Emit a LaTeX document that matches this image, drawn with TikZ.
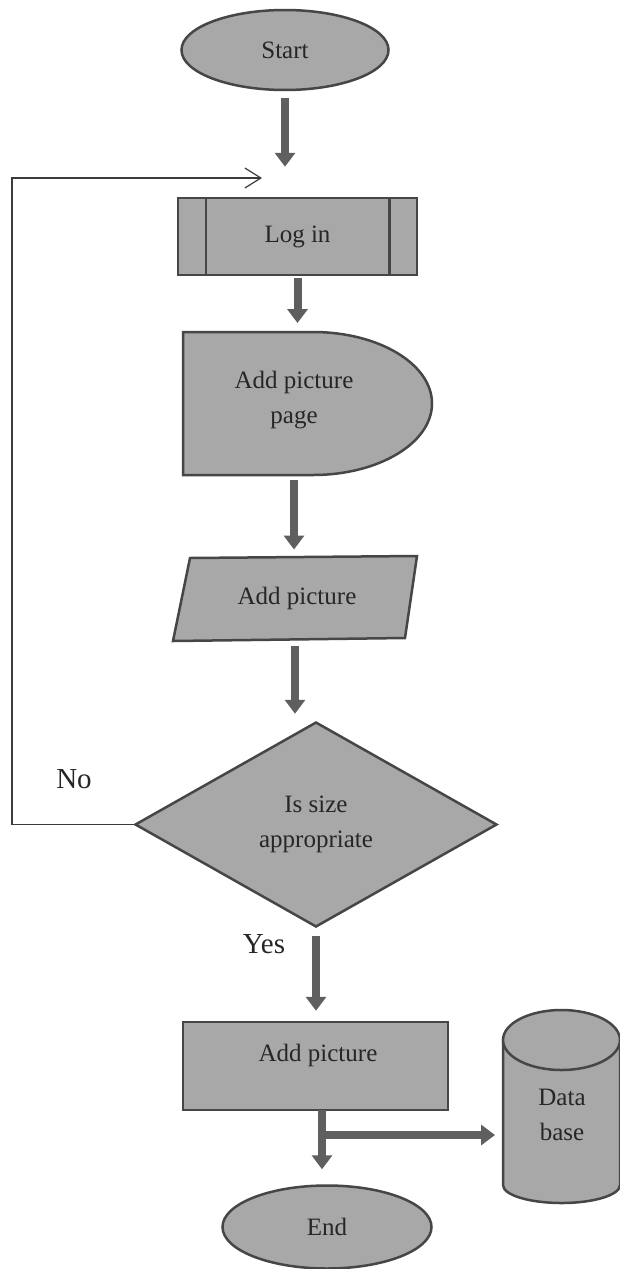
\documentclass[tikz,border=0pt]{standalone}
\usepackage{fontspec}
\setmainfont{Liberation Serif}
\usetikzlibrary{shapes.geometric,arrows.meta,calc}
\definecolor{shapefill}{RGB}{168,168,168}
\definecolor{shapeline}{RGB}{70,70,70}
\definecolor{arrowcol}{RGB}{95,95,95}
\definecolor{thinline}{RGB}{60,60,60}
\begin{document}
\begin{tikzpicture}[x=1pt,y=-1pt,
  shapestyle/.style={draw=shapeline,fill=shapefill,line width=2.5pt},
  ghost/.style={inner sep=0pt,outer sep=0pt},
  txt/.style={font=\fontsize{25}{35}\selectfont,align=center,text=black!85},
  flow/.style={draw=arrowcol,line width=8pt,-{Triangle[length=14pt,width=20pt]}},
  back/.style={draw=thinline,line width=1.2pt,-{Straight Barb[length=16pt,width=20pt]}},
  lbl/.style={font=\fontsize{29}{34}\selectfont,text=black!85}]
\fill[white] (0,0) rectangle (620,1269);
\useasboundingbox (0,0) rectangle (620,1269);

% Start
\node[shapestyle,ellipse,minimum width=207pt,minimum height=80pt,txt] (start) at (285,50) {Start};

% Log in (predefined process)
\node[shapestyle,rectangle,minimum width=239pt,minimum height=77pt,txt] (login) at (297.5,236.5) {Log in};
\draw[shapeline,line width=2.5pt] ($(login.north west)+(29,0)$) -- ($(login.south west)+(29,0)$);
\draw[shapeline,line width=2.5pt] ($(login.north east)+(-29,0)$) -- ($(login.south east)+(-29,0)$);

% Add picture page (delay shape)
\path[shapestyle] (183,332) -- (313,332) .. controls (378.7,332) and (432,364) .. (432,403.5)
  .. controls (432,443) and (378.7,475) .. (313,475) -- (183,475) -- cycle;
\node[ghost,minimum width=249pt,minimum height=143pt] (page) at (307.5,403.5) {};
\node[txt] (pagetext) at (294,400) {Add picture\\page};

% Add picture (parallelogram)
\path[shapestyle] (190,558) -- (417,556) -- (405,638) -- (173,641) -- cycle;
\node[ghost,minimum width=244pt,minimum height=83pt] (para) at (295,599) {};
\node[txt] (paratext) at (297,598) {Add picture};

% Decision
\node[shapestyle,diamond,aspect=1.766,inner sep=0pt,minimum width=362pt,minimum height=205pt,txt] (dec) at (316,824.5) {Is size\\appropriate};

% Add picture (process)
\node[shapestyle,rectangle,minimum width=265pt,minimum height=88pt] (add) at (315.5,1066) {};
\node[txt] (addtext) at (318,1055) {Add picture};

% Database cylinder
\path[shapestyle] (503,1040) -- (503,1185) .. controls (503,1195) and (529.2,1203) .. (561.5,1203)
  .. controls (593.8,1203) and (620,1195) .. (620,1185) -- (620,1040) -- cycle;
\path[shapestyle] (561.5,1040) ellipse [x radius=58.5, y radius=30];
\node[ghost,minimum width=117pt,minimum height=150pt] (db) at (561.5,1115) {};
\node[txt] (dbtext) at (562,1115) {Data\\base};

% End
\node[shapestyle,ellipse,minimum width=209pt,minimum height=83pt,txt] (end) at (327,1227) {End};

% Labels
\node[lbl] (no) at (74,779) {No};
\node[lbl] (yes) at (264,944) {Yes};

% Flow arrows
\draw[flow,shorten <=7pt,shorten >=30pt] (start.south) -- (start.south |- login.north);
\draw[flow,shorten <=2pt,shorten >=9pt] (login.south) -- (login.south |- page.north);
\draw[flow,shorten <=5pt,shorten >=8pt] (page.south -| pagetext) -- (pagetext |- para.north);
\draw[flow,shorten <=5pt,shorten >=7pt] (para.south) -- (para.south |- dec.north);
\draw[flow,shorten <=8pt,shorten >=10pt] (dec.south) -- (dec.south |- add.north);
\coordinate (addout) at (322,1110);
\coordinate (branch) at (322,1135);
\draw[flow,shorten >=15pt] (addout) -- (addout |- end.north);
\draw[flow,shorten <=-4pt,shorten >=8pt] (branch) -- (branch -| db.west);

% Feedback loop
\coordinate (loopcorner) at (12,178);
\coordinate (loopend) at (262,178);
\draw[back] (dec.west) -| (loopcorner) -- (loopend);
\end{tikzpicture}
\end{document}
